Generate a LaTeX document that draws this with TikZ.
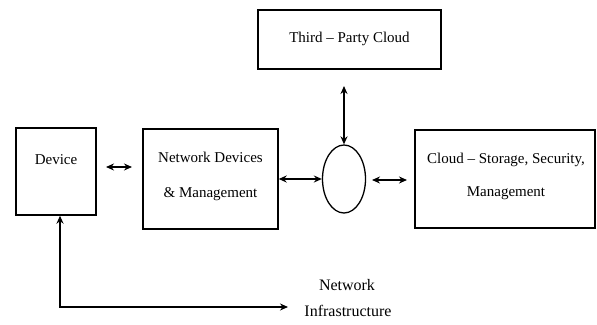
\documentclass[tikz,border=0pt]{standalone}
\usepackage{fontspec}
\setmainfont{Liberation Serif}
\usetikzlibrary{arrows.meta,shapes.geometric}
\begin{document}
\begin{tikzpicture}[x=1pt,y=-1pt,
  box/.style={draw, line width=1.4pt, inner sep=0pt},
  conn/.style={line width=1.3pt, {Stealth[length=8pt,width=7pt]}-{Stealth[length=8pt,width=7pt]}},
  lbl/.style={font=\fontsize{15}{18}\selectfont, align=center, inner sep=0pt}]
\useasboundingbox (0,0) rectangle (597,324);
\node[box, minimum width=80pt, minimum height=87pt] (dev) at (56,171.5) {};
\node[lbl] (devl) at (56,160) {Device};
\node[box, minimum width=135pt, minimum height=100pt] (nd) at (210.5,179) {};
\node[lbl] (ndl1) at (210.5,157) {Network Devices};
\node[lbl] (ndl2) at (210.5,194) {\& Management};
\node[box, minimum width=183pt, minimum height=59pt] (tp) at (349.5,39.5) {};
\node[lbl] (tpl) at (349.5,39) {Third -- Party Cloud};
\node[draw, line width=1.3pt, ellipse, minimum width=43pt, minimum height=68pt, inner sep=0pt] (c) at (344,179) {};
\node[box, minimum width=180pt, minimum height=98pt] (cl) at (505,179) {};
\node[lbl] (cll1) at (506,160) {Cloud -- Storage, Security,};
\node[lbl] (cll2) at (506,193) {Management};
\coordinate (a1) at (106,167);
\coordinate (a2) at (132,167);
\draw[conn] (a1) -- (a2);
\draw[conn] (nd.east |- c.west) -- (c.west);
\coordinate (b1) at (372,180);
\coordinate (b2) at (407,180);
\draw[conn] (b1) -- (b2);
\coordinate (t1) at (344,86);
\draw[conn] (t1) -- (c.north);
\coordinate (corner) at (60,307);
\coordinate (end) at (288,307);
\draw[conn] (dev.south -| corner) -- (corner) -- (end);
\node[lbl, font=\fontsize{16}{19}\selectfont] (ni1) at (347,285) {Network};
\node[lbl, font=\fontsize{16}{19}\selectfont] (ni2) at (348,311) {Infrastructure};
\end{tikzpicture}
\end{document}
